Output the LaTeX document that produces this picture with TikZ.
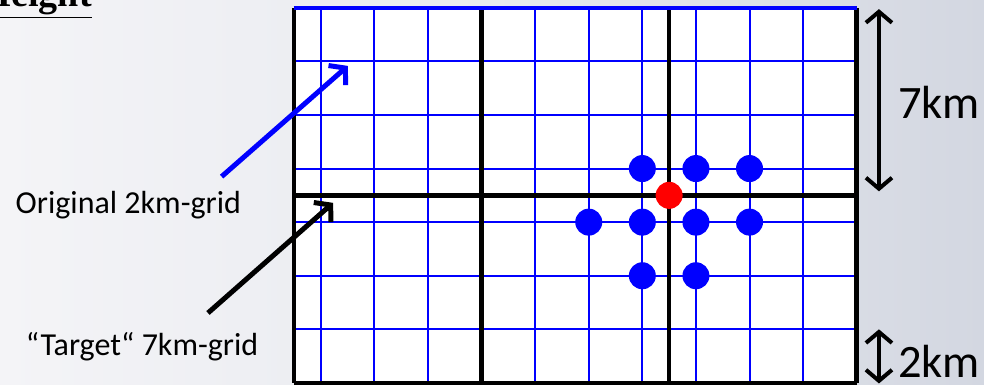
\documentclass[tikz,border=0pt]{standalone}
\usepackage{fontspec}
\newfontfamily\calibri{Carlito}
\newfontfamily\headfont{Liberation Serif}
\usetikzlibrary{positioning,arrows.meta}
\definecolor{skyleft}{RGB}{244,244,247}
\definecolor{skymid}{RGB}{232,234,239}
\definecolor{skyright}{RGB}{211,215,225}

\begin{document}
\begin{tikzpicture}[x=26.8pt, y=26.8pt,
 dot/.style={circle, fill=blue, minimum size=27pt, inner sep=0pt},
 fine/.style={blue, line width=2pt},
 coarse/.style={black, line width=4.5pt},
 txt/.style={font=\calibri\fontsize{32}{38}\selectfont, inner sep=0pt},
 dimtxt/.style={font=\calibri\fontsize{46.5}{54}\selectfont, inner sep=0pt},
 pointer/.style={line width=5pt, -{Straight Barb[length=11pt, width=26pt]}},
 dim/.style={line width=4pt, {Straight Barb[length=11pt, width=26pt]}-{Straight Barb[length=11pt, width=26pt]}}]

\clip (-10.97,-0.075) rectangle (25.75,14.29);
\shade[left color=skyleft, right color=skyright, middle color=skymid] (-10.97,-0.075) rectangle (25.75,14.29);

\node[anchor=base east, inner sep=0pt, font=\headfont\bfseries\fontsize{38}{42}\selectfont] (head) at (-7.54,14.03) {\underline{Height}};

\fill[white] (0,0) rectangle (21,14);
\foreach \x in {1,3,...,21} \draw[fine] (\x,0) -- (\x,14);
\foreach \y in {0,2,...,14} \draw[fine] (0,\y) -- (21,\y);
\foreach \x in {0,7,14,21} \draw[coarse] (\x,0) -- (\x,14);
\foreach \y in {0,7,14} \draw[coarse] (0,\y) -- (21,\y);
\draw[blue, line width=3.5pt] (0,14) -- (21,14);

\node[dot] (d1) at (13,8) {};
\node[dot] (d2) at (15,8) {};
\node[dot] (d3) at (17,8) {};
\node[dot] (d4) at (11,6) {};
\node[dot] (d5) at (13,6) {};
\node[dot] (d6) at (15,6) {};
\node[dot] (d7) at (17,6) {};
\node[dot] (d8) at (13,4) {};
\node[dot] (d9) at (15,4) {};
\node[dot, fill=red] (target) at (14,7) {};

\node[txt, anchor=base] (orig) at (-6.18,6.31) {Original 2km-grid};
\node[txt, anchor=base] (coarsegrid) at (-5.67,1.04) {“Target“ 7km-grid};

\coordinate (origtail) at (-2.70,7.70);
\coordinate (origtip) at (2.01,11.83);
\coordinate (coarsetail) at (-3.21,2.61);
\coordinate (coarsetip) at (1.46,6.72);
\draw[pointer, blue] (origtail) -- (origtip);
\draw[pointer, black] (coarsetail) -- (coarsetip);

\coordinate (sevtop) at (21.83,13.95);
\coordinate (sevbot) at (21.83,7.15);
\coordinate (twotop) at (21.83,2.0);
\coordinate (twobot) at (21.83,-0.02);
\draw[dim] (sevtop) -- (sevbot);
\draw[dim] (twotop) -- (twobot);

\node[dimtxt] (seven) at (24.07,10.48) {7km};
\node[dimtxt, anchor=base] (two) at (24.07,0.2) {2km};
\end{tikzpicture}
\end{document}
